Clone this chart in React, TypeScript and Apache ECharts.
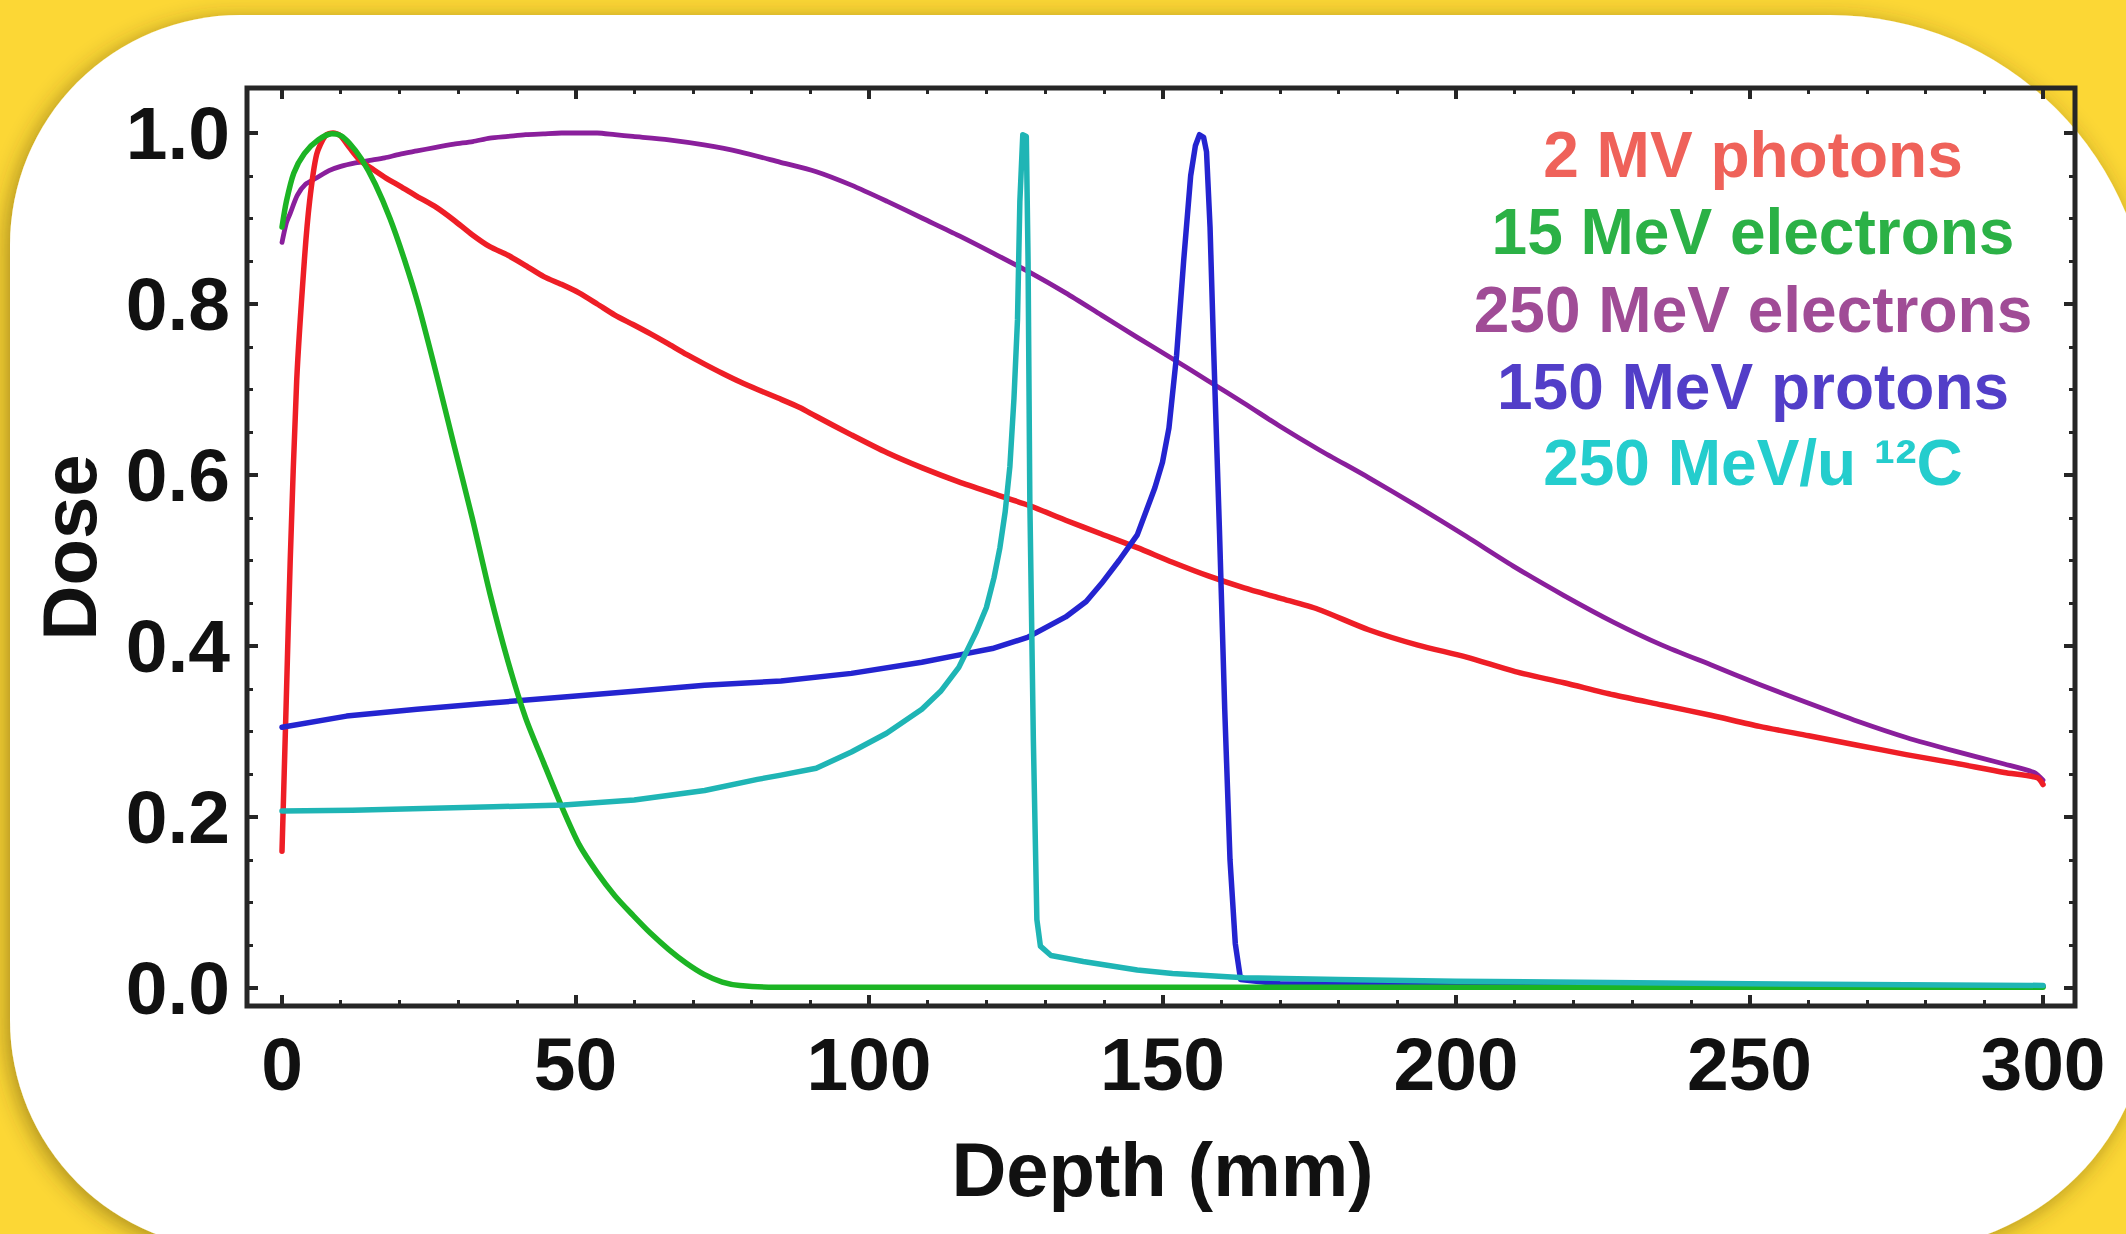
import React, { useEffect, useRef } from "react";
import * as echarts from "echarts";

// ---------- data ----------
const xTickLabels = [0, 50, 100, 150, 200, 250, 300];
const yTickLabels = [0.0, 0.2, 0.4, 0.6, 0.8, 1.0];

const seriesNames = [
  "2 MV photons",
  "15 MeV electrons",
  "250 MeV electrons",
  "150 MeV protons",
  "250 MeV/u ¹²C",
];

const photonDepth = [0, 0.7, 1.4, 2.5, 3.8, 4.7, 5.9, 7.4, 8.7, 9.9, 11.6, 13.3, 15.6, 17.8, 20.1, 23, 26.3, 29.3, 32.4, 35.4, 38.5, 41.5, 44.6, 47.6, 50.6, 53.7, 56.7, 59.8, 62.8, 65.9, 68.9, 71.9, 75, 78, 81, 84.5, 88.2, 90.9, 97, 103.1, 109.2, 115.3, 121.3, 127.4, 133.5, 139.6, 145.7, 151.7, 157.8, 163.9, 170, 176.5, 185.1, 193.5, 201.8, 210.1, 218.4, 226.8, 235.1, 243.4, 251.7, 260.1, 268.4, 276.7, 285, 293.4, 299, 300];
const photonDose = [0.16, 0.33, 0.5, 0.71, 0.85, 0.92, 0.975, 0.997, 1.0, 0.997, 0.982, 0.968, 0.957, 0.947, 0.938, 0.926, 0.913, 0.898, 0.881, 0.867, 0.857, 0.845, 0.832, 0.823, 0.813, 0.8, 0.787, 0.776, 0.765, 0.753, 0.741, 0.73, 0.719, 0.709, 0.7, 0.69, 0.679, 0.669, 0.647, 0.626, 0.608, 0.592, 0.578, 0.564, 0.547, 0.531, 0.515, 0.498, 0.482, 0.468, 0.456, 0.443, 0.419, 0.401, 0.387, 0.37, 0.357, 0.343, 0.331, 0.319, 0.306, 0.295, 0.284, 0.273, 0.263, 0.252, 0.246, 0.238];

const elec15Depth = [0, 0.75, 2, 3.8, 6.2, 8.5, 10, 11.5, 13.5, 15.9, 18.4, 20.8, 23.3, 26.3, 29.3, 32.4, 35.4, 38.5, 41.5, 44.6, 47.6, 50.6, 53.7, 56.7, 59.8, 62.8, 65.9, 68.9, 71.9, 75, 78, 84, 100, 150, 200, 250, 300];
const elec15Dose = [0.89, 0.92, 0.953, 0.976, 0.992, 0.999, 0.997, 0.988, 0.97, 0.94, 0.9, 0.853, 0.797, 0.718, 0.635, 0.55, 0.462, 0.382, 0.316, 0.263, 0.213, 0.168, 0.135, 0.108, 0.085, 0.064, 0.045, 0.029, 0.016, 0.007, 0.003, 0.001, 0.001, 0.001, 0.001, 0.001, 0.001];

const elec250Depth = [0, 0.75, 1.4, 2.6, 4, 6, 8, 10, 12.5, 15, 17.5, 20, 23, 26, 29.3, 32.5, 35.4, 38.5, 41.5, 44.5, 47.6, 50.6, 53.7, 56.7, 59.8, 65.9, 71.9, 78, 84.8, 90.9, 97, 103.1, 109.2, 115.3, 121.3, 127.4, 133.5, 139.6, 145.7, 151.7, 157.8, 163.9, 170, 176.8, 185.1, 193.5, 201.8, 210.1, 218.4, 226.8, 235.1, 243.4, 251.7, 260.1, 268.4, 276.7, 285, 293.4, 298.5, 300];
const elec250Dose = [0.872, 0.895, 0.906, 0.927, 0.94, 0.948, 0.956, 0.961, 0.965, 0.968, 0.971, 0.975, 0.979, 0.983, 0.987, 0.99, 0.994, 0.996, 0.998, 0.999, 1.0, 1.0, 1.0, 0.998, 0.996, 0.992, 0.986, 0.978, 0.966, 0.955, 0.939, 0.92, 0.9, 0.88, 0.859, 0.837, 0.813, 0.787, 0.761, 0.736, 0.71, 0.684, 0.657, 0.629, 0.597, 0.563, 0.528, 0.492, 0.459, 0.428, 0.401, 0.378, 0.355, 0.333, 0.312, 0.293, 0.277, 0.262, 0.252, 0.243];

const protonDepth = [0, 11, 23, 35, 47.5, 60, 72, 85, 97, 109, 115, 121, 127, 133.5, 137, 139.6, 142.6, 145.7, 148.7, 150, 151.1, 152.4, 153.6, 154.8, 155.6, 156.3, 157, 157.5, 158.1, 158.7, 159.7, 160.6, 161.5, 162.4, 163.3, 170, 200, 250, 300];
const protonDose = [0.305, 0.318, 0.326, 0.333, 0.34, 0.347, 0.354, 0.359, 0.368, 0.381, 0.389, 0.397, 0.41, 0.434, 0.452, 0.473, 0.5, 0.53, 0.585, 0.615, 0.655, 0.74, 0.85, 0.95, 0.985, 0.998, 0.995, 0.978, 0.89, 0.75, 0.536, 0.326, 0.15, 0.052, 0.01, 0.005, 0.004, 0.003, 0.002];

const carbonDepth = [0, 12, 24, 36, 48, 60, 72, 81, 85, 91, 97, 103, 109, 112.2, 115.3, 118.3, 120, 121.3, 122.3, 123.2, 124, 124.7, 125.3, 125.7, 126.2, 126.8, 127.1, 127.4, 128, 128.6, 129.2, 131, 136.5, 145.7, 151.7, 163.9, 180, 200, 250, 300];
const carbonDose = [0.207, 0.208, 0.21, 0.212, 0.214, 0.22, 0.231, 0.244, 0.249, 0.257, 0.276, 0.298, 0.326, 0.347, 0.375, 0.417, 0.445, 0.48, 0.515, 0.557, 0.61, 0.69, 0.782, 0.92, 0.998, 0.996, 0.85, 0.57, 0.29, 0.08, 0.049, 0.038, 0.031, 0.021, 0.017, 0.012, 0.01, 0.008, 0.005, 0.003];

// ---------- styling ----------
const FONT = '"Liberation Sans", Arial, Helvetica, sans-serif';
const lineColors = ["#EE1E26", "#1CB424", "#8A1F9C", "#2424D0", "#1FB5B5"];
const lineWidths = [5.5, 5.5, 4.8, 5.5, 5.5];
const lineSmooth = [0.25, 0.25, 0.25, false, false];
const legendColors = ["#EF625A", "#2BB146", "#A04C96", "#523EC8", "#24CDCD"];
const INK = "#262626";

const pairs = (xs: number[], ys: number[]) => xs.map((x, i) => [x, ys[i]]);

export default function App() {
  const ref = useRef<HTMLDivElement>(null);

  useEffect(() => {
    if (!ref.current) return;
    const chart = echarts.init(ref.current, null, { renderer: "svg" });

    const xMin = xTickLabels[0];
    const xMax = xTickLabels[xTickLabels.length - 1];
    const xInt = xTickLabels[1] - xTickLabels[0];
    const yMin = yTickLabels[0];
    const yMax = yTickLabels[yTickLabels.length - 1];
    const yInt = +(yTickLabels[1] - yTickLabels[0]).toFixed(3);

    const tickCommon = {
      axisLine: { show: false, onZero: false },
      splitLine: { show: false },
      axisTick: { show: true, inside: true, length: 11, lineStyle: { color: INK, width: 4 } },
    };

    const legendMid = [155, 232, 310, 387, 463];

    const seriesData = [
      pairs(photonDepth, photonDose),
      pairs(elec15Depth, elec15Dose),
      pairs(elec250Depth, elec250Dose),
      pairs(protonDepth, protonDose),
      pairs(carbonDepth, carbonDose),
    ];
    const drawOrder = [2, 0, 3, 1, 4];

    const option: any = {
      animation: false,
      backgroundColor: "#FCD735",
      textStyle: { fontFamily: FONT },
      graphic: [
        {
          type: "rect",
          z: -10,
          silent: true,
          shape: { x: 10, y: 15, width: 2140, height: 1235, r: [230, 320, 250, 230] },
          style: {
            fill: "#ffffff",
            shadowBlur: 22,
            shadowColor: "rgba(70,50,0,0.45)",
            shadowOffsetX: -4,
            shadowOffsetY: 4,
          },
        },
        {
          type: "rect",
          z: 50,
          silent: true,
          shape: { x: 247, y: 88, width: 1828, height: 918 },
          style: { fill: "none", stroke: INK, lineWidth: 5 },
        },
        ...seriesNames.map((name, i) => ({
          type: "text",
          z: 60,
          x: 1753,
          y: legendMid[i],
          style: {
            text: name,
            fill: legendColors[i],
            fontSize: 64,
            fontWeight: "bold",
            fontFamily: FONT,
            align: "center",
            verticalAlign: "middle",
          },
        })),
      ],
      grid: { left: 282, right: 83, top: 133, bottom: 246, containLabel: false },
      xAxis: [
        {
          type: "value",
          min: xMin,
          max: xMax,
          interval: xInt,
          position: "bottom",
          offset: 18,
          ...tickCommon,
          minorTick: { show: true, splitNumber: 5, length: 6, lineStyle: { color: INK, width: 3 } },
          axisLabel: {
            margin: 20,
            fontSize: 75,
            fontWeight: "bold",
            color: "#111",
            fontFamily: FONT,
            showMinLabel: true,
            showMaxLabel: true,
          },
          name: "Depth (mm)",
          nameLocation: "middle",
          nameGap: 125,
          nameTextStyle: { fontSize: 76, fontWeight: "bold", color: "#111", fontFamily: FONT },
        },
        {
          type: "value",
          min: xMin,
          max: xMax,
          interval: xInt,
          position: "top",
          offset: 45,
          ...tickCommon,
          minorTick: { show: true, splitNumber: 5, length: 6, lineStyle: { color: INK, width: 3 } },
          axisLabel: { show: false },
        },
      ],
      yAxis: [
        {
          type: "value",
          min: yMin,
          max: yMax,
          interval: yInt,
          position: "left",
          offset: 35,
          ...tickCommon,
          minorTick: { show: true, splitNumber: 4, length: 6, lineStyle: { color: INK, width: 3 } },
          axisLabel: {
            margin: 17,
            fontSize: 75,
            fontWeight: "bold",
            color: "#111",
            fontFamily: FONT,
            showMinLabel: true,
            showMaxLabel: true,
            formatter: (v: number) => v.toFixed(1),
          },
          name: "Dose",
          nameLocation: "middle",
          nameGap: 140,
          nameTextStyle: {
            fontSize: 76,
            fontWeight: "bold",
            color: "#111",
            fontFamily: FONT,
            padding: [0, 0, 0, 26],
          },
        },
        {
          type: "value",
          min: yMin,
          max: yMax,
          interval: yInt,
          position: "right",
          offset: 32,
          ...tickCommon,
          minorTick: { show: true, splitNumber: 4, length: 6, lineStyle: { color: INK, width: 3 } },
          axisLabel: { show: false },
        },
      ],
      series: drawOrder.map((idx, k) => ({
        type: "line",
        name: seriesNames[idx],
        data: seriesData[idx],
        xAxisIndex: 0,
        yAxisIndex: 0,
        showSymbol: false,
        symbol: "none",
        clip: false,
        smooth: lineSmooth[idx],
        z: 3 + k,
        lineStyle: { color: lineColors[idx], width: lineWidths[idx], cap: "round", join: "round" },
      })),
    };

    chart.setOption(option);
    return () => chart.dispose();
  }, []);

  return (
    <div
      ref={ref}
      style={{ position: "fixed", left: 0, top: 0, width: 2126, height: 1234 }}
    />
  );
}
